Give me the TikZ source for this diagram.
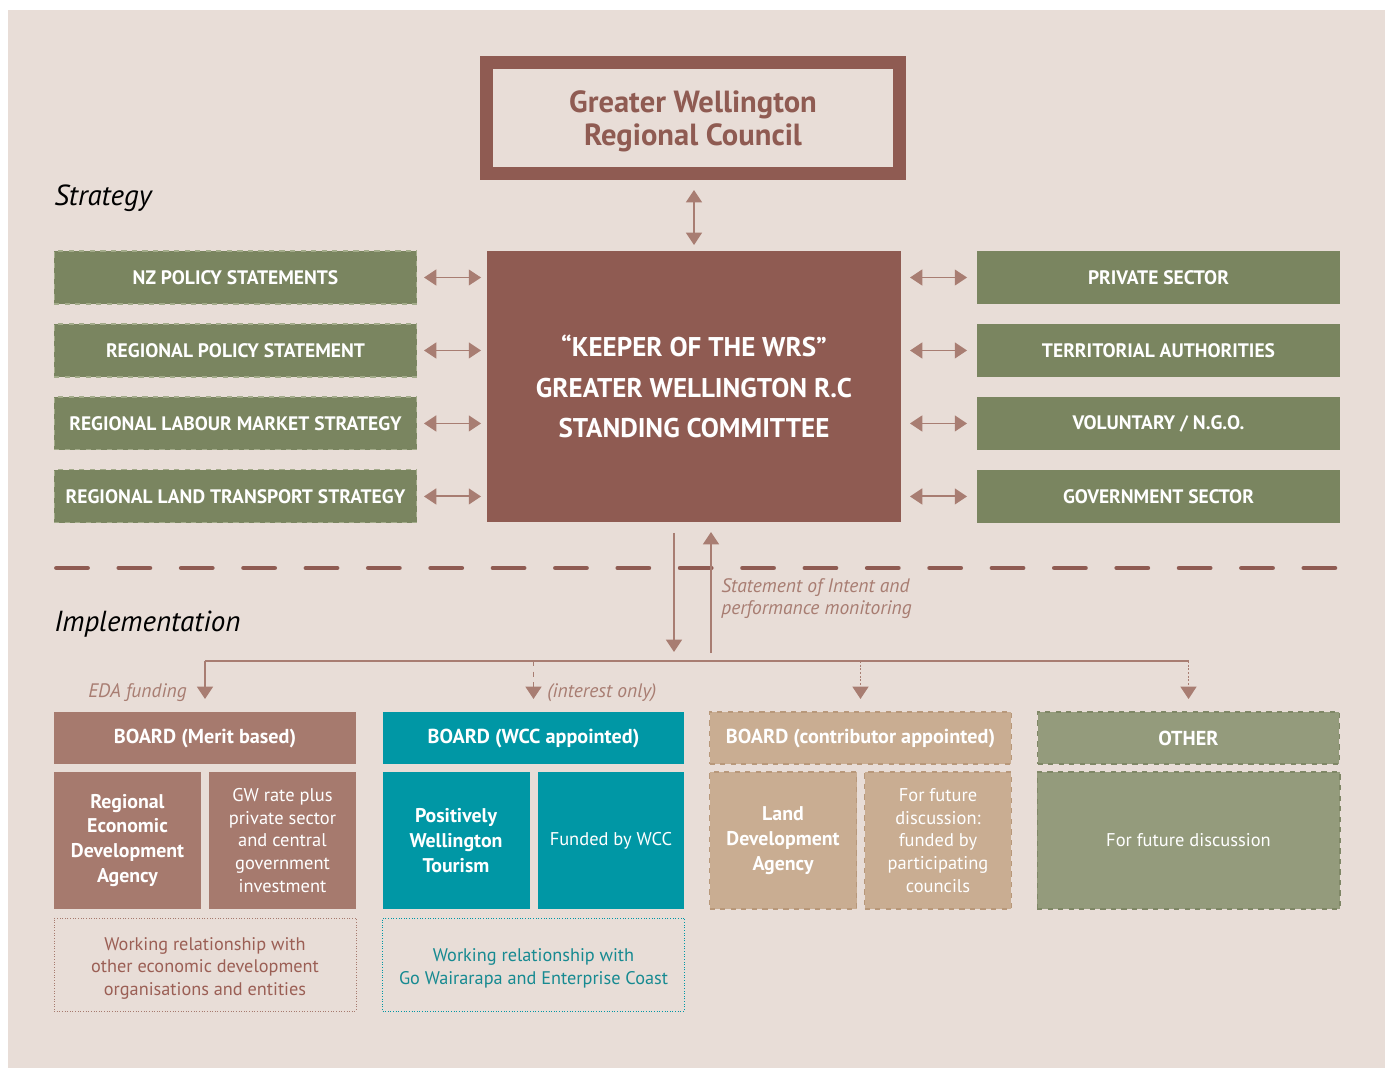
\documentclass[tikz,border=0pt]{standalone}
\usepackage{fontspec}
\setmainfont{PT Sans}
\usetikzlibrary{arrows.meta,positioning}
\definecolor{bgbeige}{HTML}{E8DDD7}
\definecolor{darkred}{HTML}{8F5B52}
\definecolor{arrowred}{HTML}{A87D72}
\definecolor{olive}{HTML}{7A8560}
\definecolor{olivedash}{HTML}{A3AB8A}
\definecolor{paleolive}{HTML}{949B7C}
\definecolor{paleolivedash}{HTML}{7F8766}
\definecolor{rosebrown}{HTML}{A67A6E}
\definecolor{wccteal}{HTML}{0097A5}
\definecolor{ldatan}{HTML}{C9AD92}
\definecolor{ldatandash}{HTML}{B8987A}
\definecolor{wrkred}{HTML}{9B5F55}
\definecolor{wrkteal}{HTML}{178A91}

\begin{document}
\begin{tikzpicture}[x=0.02cm,y=-0.02cm,node distance=0.4cm]
\tikzstyle{sq1}=[rectangle, inner sep=0pt, outer sep=0pt, align=center, text=white]
\tikzstyle{strat}=[sq1, fill=olive, minimum width=7.26cm, minimum height=1.06cm, font=\fontsize{11.1}{12}\selectfont\bfseries]
\tikzstyle{stratd}=[strat, draw=olivedash, dashed, line width=0.6pt]
\tikzstyle{board}=[sq1, minimum width=6.04cm, minimum height=1.04cm, font=\fontsize{11.5}{12}\selectfont\bfseries]
\tikzstyle{sub}=[sq1, minimum width=2.94cm, minimum height=2.74cm, font=\fontsize{10.5}{12.9}\selectfont]
\tikzstyle{subb}=[sub, font=\fontsize{11.3}{14.2}\selectfont\bfseries]
\tikzstyle{wrk}=[rectangle, inner sep=0pt, outer sep=0pt, minimum width=6.04cm, minimum height=1.86cm, densely dotted, line width=0.5pt, align=center, font=\fontsize{10.4}{12.9}\selectfont]
\tikzstyle{dbl}=[draw=arrowred, line width=1.1pt, {Triangle[width=9pt,length=7pt]}-{Triangle[width=9pt,length=7pt]}]
\tikzstyle{sgl}=[draw=arrowred, line width=1.1pt, -{Triangle[width=9pt,length=7pt]}]
\tikzstyle{lbl}=[inner sep=0pt, text=arrowred, font=\fontsize{11.1}{12.6}\selectfont\itshape]
\tikzstyle{head}=[inner sep=0pt, anchor=west, font=\fontsize{16.5}{18}\selectfont\itshape]

\useasboundingbox (0,0) rectangle (1391,1068);
\fill[white] (0,0) rectangle (1391,1068);
\fill[bgbeige] (8,10) rectangle (1385,1068);

% top of the tree
\node (gwrc) [sq1, draw=darkred, line width=7.4pt, minimum width=8.26cm, minimum height=2.22cm, text=darkred, font=\fontsize{17.4}{19}\selectfont\bfseries] at (693,118) {\raisebox{-6.3pt}[0pt][0pt]{\parbox{7cm}{\centering Greater Wellington\\Regional Council}}};
\node (wrs) [sq1, fill=darkred, minimum width=8.28cm, minimum height=5.42cm, font=\fontsize{15.4}{23}\selectfont\bfseries] at (694,386.5) {“KEEPER OF THE WRS”\\GREATER WELLINGTON R.C\\STANDING COMMITTEE};
\draw[dbl, shorten <=0.33cm, shorten >=0.12cm] (gwrc.south -| wrs) -- (wrs.north);

\node (strat) [head] at (54,198) {Strategy};
\node (impl) [head] at (54,624) {Implementation};

% strategy, left
\node (ls1) [stratd] at (235.5,277.5) {NZ POLICY STATEMENTS};
\node (ls2) [stratd, below=of ls1] {REGIONAL POLICY STATEMENT};
\node (ls3) [stratd, below=of ls2] {REGIONAL LABOUR MARKET STRATEGY};
\node (ls4) [stratd, below=of ls3] {REGIONAL LAND TRANSPORT STRATEGY};
% strategy, right
\node (rs1) [strat] at (1158.5,277.5) {PRIVATE SECTOR};
\node (rs2) [strat, below=of rs1] {TERRITORIAL AUTHORITIES};
\node (rs3) [strat, below=of rs2] {VOLUNTARY / N.G.O.};
\node (rs4) [strat, below=of rs3] {GOVERNMENT SECTOR};

\foreach \n in {1,2,3,4}{
  \draw[dbl, shorten <=0.14cm, shorten >=0.12cm] (ls\n.east) -- (wrs.west |- ls\n.east);
  \draw[dbl, shorten <=0.18cm, shorten >=0.2cm] (wrs.east |- rs\n.west) -- (rs\n.west);
}

% split line
\draw[darkred, line width=2.8pt, line cap=round, dash pattern=on 17.6pt off 17.9pt] (56.5,568) -- (1342,568);

% implementation
\node (b1) [board, fill=rosebrown] at (205,738) {BOARD (Merit based)};
\node (b2) [board, fill=wccteal] at (533.5,738) {BOARD (WCC appointed)};
\node (b3) [board, fill=ldatan, draw=ldatandash, dashed, line width=0.6pt] at (860.5,738) {BOARD (contributor appointed)};
\node (b4) [board, fill=paleolive, draw=paleolivedash, dashed, line width=0.6pt] at (1188.5,738) {OTHER};

\node (reda) [subb, fill=rosebrown, below right=0.16cm and 0cm of b1.south west] {Regional\\Economic\\Development\\Agency};
\node (gwr) [sub, fill=rosebrown, below left=0.16cm and 0cm of b1.south east] {GW rate plus\\private sector\\and central\\government\\investment};
\node (pwt) [subb, fill=wccteal, below right=0.16cm and 0cm of b2.south west] {Positively\\Wellington\\Tourism};
\node (fwcc) [sub, fill=wccteal, below left=0.16cm and 0cm of b2.south east] {Funded by WCC};
\node (lda) [subb, fill=ldatan, draw=ldatandash, dashed, line width=0.6pt, below right=0.16cm and 0cm of b3.south west] {Land\\Development\\Agency};
\node (ffd) [sub, fill=ldatan, draw=ldatandash, dashed, line width=0.6pt, below left=0.16cm and 0cm of b3.south east] {For future\\discussion:\\funded by\\participating\\councils};
\node (oth) [sub, fill=paleolive, draw=paleolivedash, dashed, line width=0.6pt, minimum width=6.06cm, below=0.16cm of b4] {For future discussion};

\node (wr1) [wrk, draw=rosebrown, text=wrkred, below right=0.18cm and 0cm of reda.south west] {\raisebox{-4.6pt}[0pt][0pt]{\parbox{5.8cm}{\centering Working relationship with\\other economic development\\organisations and entities}}};
\node (wr2) [wrk, draw=wccteal, text=wrkteal, below right=0.18cm and 0cm of pwt.south west] {\raisebox{-4.6pt}[0pt][0pt]{\parbox{5.8cm}{\centering Working relationship with\\Go Wairarapa and Enterprise Coast}}};

% funding links
\coordinate (hl) at (205,661);
\coordinate (hr) at (1189,661);
\coordinate (dn) at (674,661);
\coordinate (up) at (711,661);
\draw[sgl, shorten <=0.22cm, shorten >=0.18cm] (wrs.south -| dn) -- (dn);
\draw[sgl, shorten <=0.16cm, shorten >=0.2cm] (up) -- (wrs.south -| up);
\draw[arrowred, line width=1.1pt] (hl) -- (hr);
\draw[sgl, shorten >=0.26cm] (hl) -- (b1.north);
\draw[sgl, dashed, shorten >=0.26cm] (b2.north |- hl) -- (b2.north);
\draw[sgl, densely dotted, shorten >=0.26cm] (b3.north |- hl) -- (b3.north);
\draw[sgl, densely dotted, shorten >=0.26cm] (b4.north |- hl) -- (b4.north);

\node (soi) [lbl, anchor=north west, align=left] at (721,578) {Statement of Intent and\\performance monitoring};
\node (eda) [lbl, anchor=east] at (187,693) {EDA funding};
\node (int) [lbl, anchor=west] at (547,693) {(interest only)};
\end{tikzpicture}
\end{document}
